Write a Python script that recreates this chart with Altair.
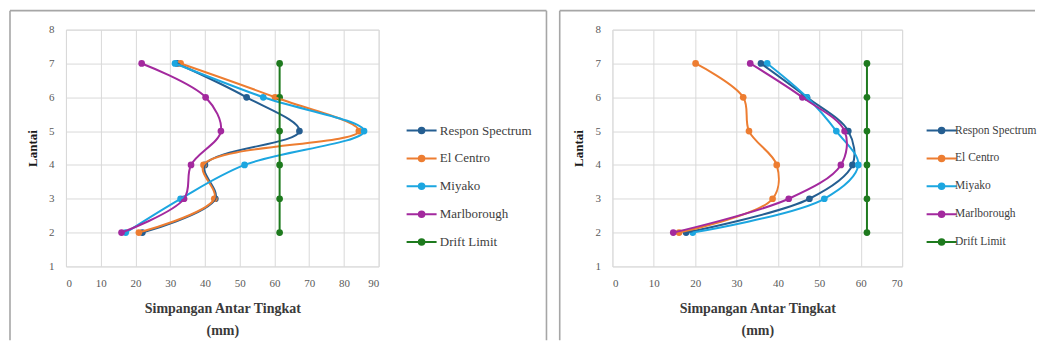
import altair as alt
import pandas as pd

floors = [2, 3, 4, 5, 6, 7]
series = ["Respon Spectrum", "El Centro", "Miyako", "Marlborough", "Drift Limit"]
colors = ["#255E91", "#ED7D31", "#1CA6E0", "#A3299E", "#1E7A1E"]

# Left panel (x: 0-90)
left_respon = [22.0, 43.0, 40.0, 67.2, 52.0, 32.0]
left_elcentro = [21.0, 42.7, 39.6, 84.3, 60.2, 33.0]
left_miyako = [17.2, 33.0, 51.4, 85.8, 56.8, 31.4]
left_marlborough = [16.0, 34.0, 36.0, 44.6, 40.2, 21.8]
left_drift = [61.5, 61.5, 61.5, 61.5, 61.5, 61.5]

# Right panel (x: 0-70)
right_respon = [17.8, 47.6, 58.0, 57.0, 47.0, 35.9]
right_elcentro = [16.1, 38.7, 39.7, 33.0, 31.6, 20.1]
right_miyako = [19.4, 51.2, 59.4, 54.1, 47.0, 37.4]
right_marlborough = [14.7, 42.6, 55.2, 56.1, 45.9, 33.3]
right_drift = [61.5, 61.5, 61.5, 61.5, 61.5, 61.5]

x_title = ["Simpangan Antar Tingkat", "(mm)"]
y_title = "Lantai"

FONT = "Liberation Serif"
# line with a solid dot drawn as concentric stroked rings (legend symbols are stroked)
SYMBOL = ("M-2,0L2,0 "
          "M-0.08,0A0.08,0.08 0 1,0 0.08,0A0.08,0.08 0 1,0 -0.08,0 "
          "M-0.24,0A0.24,0.24 0 1,0 0.24,0A0.24,0.24 0 1,0 -0.24,0 "
          "M-0.37,0A0.37,0.37 0 1,0 0.37,0A0.37,0.37 0 1,0 -0.37,0")


def build_df(cols):
    rows = []
    for name, vals in zip(series, cols):
        for f, v in zip(floors, vals):
            rows.append({"series": name, "floor": f, "drift": v})
    return pd.DataFrame(rows)


def panel(df, xmax, width, legend_x, label_offset, label_size, borders):
    x = alt.X("drift:Q",
              scale=alt.Scale(domain=[0, xmax], nice=False, zero=True),
              axis=alt.Axis(values=list(range(0, xmax + 1, 10)), title=x_title,
                            grid=True, gridColor="#D9D9D9", domain=False, ticks=False,
                            labelFont=FONT, labelFontSize=11, labelColor="#595959",
                            labelPadding=11, titleFont=FONT, titleFontSize=14,
                            titleFontWeight="bold", titleColor="#3A3A3A",
                            titlePadding=13, titleLineHeight=22))
    y = alt.Y("floor:Q",
              scale=alt.Scale(domain=[1, 8], nice=False, zero=False),
              axis=alt.Axis(values=list(range(1, 9)), title=y_title,
                            grid=True, gridColor="#D9D9D9", domain=False, ticks=False,
                            labelFont=FONT, labelFontSize=11, labelColor="#595959",
                            labelPadding=12, titleFont=FONT, titleFontSize=13,
                            titleFontWeight="bold", titleColor="#1A1A1A",
                            titlePadding=9))
    cscale = alt.Scale(domain=series, range=colors)
    legend = alt.Legend(title=None, orient="none", legendX=legend_x, legendY=92.5,
                        symbolType=SYMBOL, symbolSize=225, symbolStrokeWidth=2,
                        labelFont=FONT, labelFontSize=label_size, labelColor="#404040",
                        labelOffset=label_offset, rowPadding=11.9, padding=0)
    color = alt.Color("series:N", scale=cscale, legend=legend, sort=series)
    lines = alt.Chart(df).mark_line(interpolate="catmull-rom", strokeWidth=2).encode(
        x=x, y=y, order=alt.Order("floor:Q"), color=color)
    points = alt.Chart(df).mark_point(filled=True, size=45, opacity=1).encode(
        x=x, y=y, color=color)
    layers = [points, lines]
    bdf = pd.DataFrame({"k": [0]})
    for (x1, x2, y1, y2) in borders:
        layers.append(alt.Chart(bdf).mark_rule(color="#A6A6A6", strokeWidth=1.6).encode(
            x=alt.value(x1), x2=alt.value(x2), y=alt.value(y1), y2=alt.value(y2)))
    return alt.layer(*layers).properties(width=width, height=237)


left = panel(build_df([left_respon, left_elcentro, left_miyako, left_marlborough, left_drift]),
             90, 313, 347.5, 9.75, 13,
             [(-56, -56, -19, 311), (-56, 481, -19, -19), (481, 481, -19, 311)])
right = panel(build_df([right_respon, right_elcentro, right_miyako, right_marlborough, right_drift]),
              70, 290, 321, 5, 11.5,
              [(-52.75, -52.75, -19, 311), (-52.75, 423, -19, -19)])

chart = alt.hconcat(left, right, spacing=234, bounds="flush").resolve_scale(
    color="independent").resolve_legend(color="independent").properties(
    padding={"left": 0, "top": 0.5, "right": 0, "bottom": 0}
).configure_view(stroke=None).configure(background="white")

chart.save("out.html", embed_options={"renderer": "svg", "actions": False})
